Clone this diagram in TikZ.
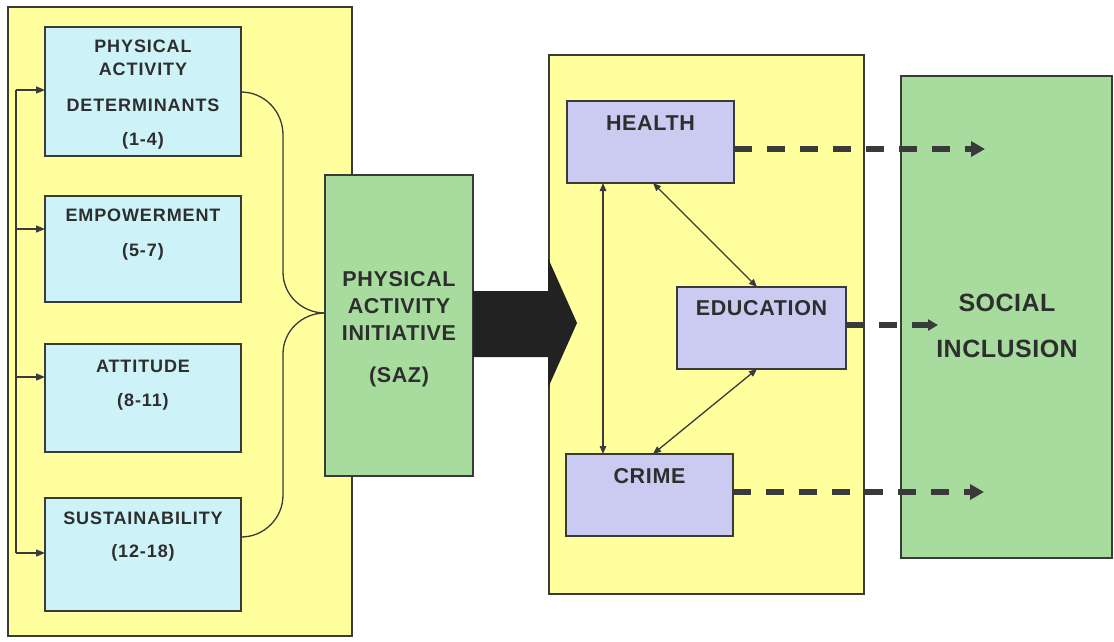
\documentclass[tikz,border=0pt]{standalone}
\usepackage{fontspec}
\setmainfont{Liberation Sans}
\usetikzlibrary{arrows.meta,fit}
\definecolor{paneY}{HTML}{FFFF9E}
\definecolor{boxB}{HTML}{CDF3F9}
\definecolor{boxG}{HTML}{A8DC9E}
\definecolor{boxL}{HTML}{CBCBF2}
\definecolor{ink}{HTML}{3A3A3A}
\definecolor{txt}{HTML}{2E2E2E}
\definecolor{blk}{HTML}{222222}
\begin{document}
\begin{tikzpicture}[x=1pt,y=-1pt,
  panel/.style={draw=ink,line width=1.6pt,fill=paneY,inner sep=0pt,outer sep=0pt},
  bbox/.style={draw=ink,line width=1.6pt,fill=boxB,inner sep=0pt,outer sep=0pt},
  gbox/.style={draw=ink,line width=1.6pt,fill=boxG,inner sep=0pt,outer sep=0pt},
  lbox/.style={draw=ink,line width=1.6pt,fill=boxL,inner sep=0pt,outer sep=0pt},
  lbl/.style={anchor=base,inner sep=0pt,text=txt,font=\bfseries\fontsize{18}{20}\selectfont\addfontfeatures{LetterSpace=5}},
  mlbl/.style={anchor=base,inner sep=0pt,text=txt,font=\bfseries\fontsize{21.5}{24}\selectfont\addfontfeatures{LetterSpace=3}},
  slbl/.style={anchor=base,inner sep=0pt,text=txt,font=\bfseries\fontsize{25}{28}\selectfont\addfontfeatures{LetterSpace=2}},
  thinline/.style={draw=ink,line width=1.3pt},
  feed/.style={thinline,-{Triangle[length=9pt,width=7pt]}},
  dbl/.style={thinline,{Triangle[length=8pt,width=6.5pt]}-{Triangle[length=8pt,width=6.5pt]}},
  dashline/.style={draw=ink,line width=5.5pt,dash pattern=on 18pt off 15pt},
  bighead/.style={-{Triangle[length=14pt,width=15pt]}},
  smallhead/.style={-{Triangle[length=10pt,width=11pt]}},
]
\useasboundingbox (0,0) rectangle (1114,641);
\fill[white] (0,0) rectangle (1114,641);

% left panel
\node[panel, fit={(8,7) (352,636)}] (p1) {};
\node[bbox, fit={(45,27) (241,156)}] (b1) {};
\node[bbox, fit={(45,196) (241,302)}] (b2) {};
\node[bbox, fit={(45,344) (241,452)}] (b3) {};
\node[bbox, fit={(45,498) (241,611)}] (b4) {};

\node[lbl] (t1a) at (143,52) {PHYSICAL};
\node[lbl] (t1b) at (143,75) {ACTIVITY};
\node[lbl] (t1c) at (143,111) {DETERMINANTS};
\node[lbl] (t1d) at (143,145) {(1-4)};
\node[lbl] (t2a) at (143,221) {EMPOWERMENT};
\node[lbl] (t2b) at (143,256) {(5-7)};
\node[lbl] (t3a) at (143,372) {ATTITUDE};
\node[lbl] (t3b) at (143,406) {(8-11)};
\node[lbl] (t4a) at (143,524) {SUSTAINABILITY};
\node[lbl] (t4b) at (143,557) {(12-18)};

% feedback line
\coordinate (f1) at (16,90);
\coordinate (f2) at (16,229);
\coordinate (f3) at (16,377);
\coordinate (f4) at (16,553);
\draw[thinline] (f1) -- (f4);
\draw[feed] (f1) -- (b1.west |- f1);
\draw[feed] (f2) -- (b2.west |- f2);
\draw[feed] (f3) -- (b3.west |- f3);
\draw[feed] (f4) -- (b4.west |- f4);

% initiative box
\node[gbox, fit={(325,175) (473,476)}] (pai) {};
\node[mlbl] (pa1) at (399,286) {PHYSICAL};
\node[mlbl] (pa2) at (399,313) {ACTIVITY};
\node[mlbl] (pa3) at (399,340) {INITIATIVE};
\node[mlbl] (pa4) at (399,382) {(SAZ)};

% brace
\coordinate (bt) at (pai.west |- 0,313);
\draw[thinline] (b1.east |- 0,92) to[out=0,in=90] (283,135) -- (283,272) to[out=-90,in=180] (bt);
\draw[thinline] (bt) to[out=180,in=90] (283,354) -- (283,495) to[out=-90,in=0] (b4.east |- 0,537);

% middle panel
\node[panel, fit={(549,55) (864,594)}] (p2) {};
\node[lbox, fit={(567,101) (734,183)}] (hl) {};
\node[lbox, fit={(677,287) (846,369)}] (ed) {};
\node[lbox, fit={(566,454) (733,536)}] (cr) {};
\node[mlbl] (hlt) at (650.5,130) {HEALTH};
\node[mlbl] (edt) at (761.5,315) {EDUCATION};
\node[mlbl] (crt) at (649.5,483) {CRIME};

\draw[dbl] (hl.south -| 603,0) -- (cr.north -| 603,0);
\draw[dbl] (hl.south -| 653,0) -- (ed.north -| 757,0);
\draw[dbl] (ed.south -| 757,0) -- (cr.north -| 653,0);

% big black arrow
\fill[blk] (pai.east |- 0,291) -- (548,291) -- (548,258) -- (577,323) -- (548,388) -- (548,357) -- (pai.east |- 0,357) -- cycle;

% social inclusion
\node[gbox, fit={(901,76) (1112,558)}] (si) {};
\node[slbl] (si1) at (1007,311) {SOCIAL};
\node[slbl] (si2) at (1007,357) {INCLUSION};

% dashed arrows
\coordinate (hT) at (985,149);
\coordinate (eT) at (938,325);
\coordinate (cT) at (984,492);
\draw[dashline,bighead] (hl.east |- hT) -- (hT);
\draw[dashline,smallhead] (ed.east |- eT) -- (eT);
\draw[dashline,bighead] (cr.east |- cT) -- (cT);
\end{tikzpicture}
\end{document}
